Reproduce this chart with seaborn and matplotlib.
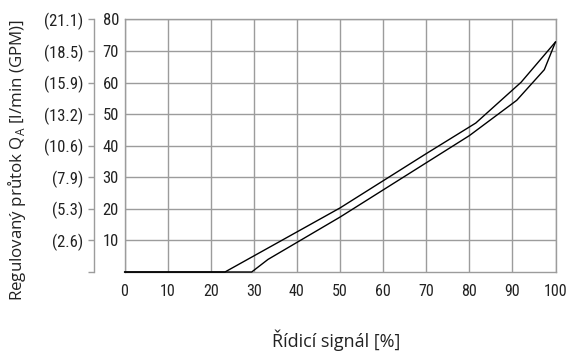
import matplotlib
matplotlib.use("Agg")
import matplotlib.pyplot as plt
from matplotlib import font_manager
import seaborn as sns
import pandas as pd

# --- data ---
upper_signal = [0, 23.3, 50, 60, 70, 81.5, 92, 100]
upper_flow = [0, 0, 20.3, 28.9, 37.5, 47.2, 60.1, 72.9]
lower_signal = [0, 29.5, 33.3, 50, 60, 70, 80, 91, 97.4, 100]
lower_flow = [0, 0, 4.0, 17.4, 26.0, 34.6, 43.2, 54.4, 64.1, 72.9]

x_ticks = [0, 10, 20, 30, 40, 50, 60, 70, 80, 90, 100]
y_ticks = [10, 20, 30, 40, 50, 60, 70, 80]
gpm_ticks = [0, 10, 20, 30, 40, 50, 60, 70, 80]
gpm_labels = ["", "(2.6)", "(5.3)", "(7.9)", "(10.6)", "(13.2)", "(15.9)", "(18.5)", "(21.1)"]

x_label = "Řídicí signál [%]"
y_label = r"Regulovaný průtok Q$_\mathregular{A}$ [l/min (GPM)]"

df = pd.concat([
    pd.DataFrame({"signal": upper_signal, "flow": upper_flow, "curve": "upper"}),
    pd.DataFrame({"signal": lower_signal, "flow": lower_flow, "curve": "lower"}),
], ignore_index=True)

sns.set_theme(style="white")

# pick a condensed font for the numbers if one is installed
available = {f.name for f in font_manager.fontManager.ttflist}
narrow = None
for cand in ["Liberation Sans Narrow", "Roboto Condensed", "Noto Sans Condensed",
             "DejaVu Sans Condensed", "Open Sans Condensed"]:
    if cand in available:
        narrow = cand
        break
if narrow:
    num_font = [narrow, "DejaVu Sans"]
    xs, ys = 11.5, 12
else:
    num_font = ["Roboto", "DejaVu Sans"]
    xs, ys = 10, 10.5
lab_font = ["Open Sans", "DejaVu Sans"]
plt.rcParams["font.family"] = num_font

GRID = "#9c9c9c"
TXT = "#222222"

fig = plt.figure(figsize=(5.66, 3.59), dpi=100)
ax = fig.add_axes([0.22, 0.2423, 0.7615, 0.7034])

sns.lineplot(data=df, x="signal", y="flow", hue="curve", palette=["black", "black"],
             estimator=None, sort=False, linewidth=1.0, legend=False, ax=ax, clip_on=False,
             zorder=5)

ax.set_xlim(0, 100)
ax.set_ylim(0, 80)
ax.set_xticks(x_ticks)
ax.set_xticklabels([str(v) for v in x_ticks], fontsize=xs, color=TXT)
ax.set_yticks(y_ticks)
ax.set_yticklabels([str(v) for v in y_ticks], fontsize=ys, color=TXT)
ax.tick_params(axis="x", length=0, pad=8.5)
ax.tick_params(axis="y", length=0, pad=4)

ax.grid(True, color=GRID, linewidth=1.0)
ax.set_axisbelow(True)
for s in ["left", "right", "top", "bottom"]:
    ax.spines[s].set_color(GRID)
    ax.spines[s].set_linewidth(1.0)

# secondary GPM axis (bracket)
sec = ax.secondary_yaxis(-0.0705)
sec.set_yticks(gpm_ticks)
sec.set_yticklabels(gpm_labels, fontsize=ys, color=TXT)
sec.tick_params(axis="y", direction="out", length=4.5, width=1.0, color=GRID, pad=3)
sec.spines["left"].set_color(GRID)
sec.spines["left"].set_linewidth(1.0)

ax.set_xlabel(x_label, fontsize=13, color=TXT, family=lab_font)
ax.xaxis.set_label_coords(0.49, -0.27)
ax.xaxis.label.set_va("center")
ax.set_ylabel(y_label, fontsize=12.2, color=TXT, family=lab_font)
ax.yaxis.set_label_coords(-0.25, 0.445)
ax.yaxis.label.set_va("center")

fig.savefig("out.png", dpi=100)
